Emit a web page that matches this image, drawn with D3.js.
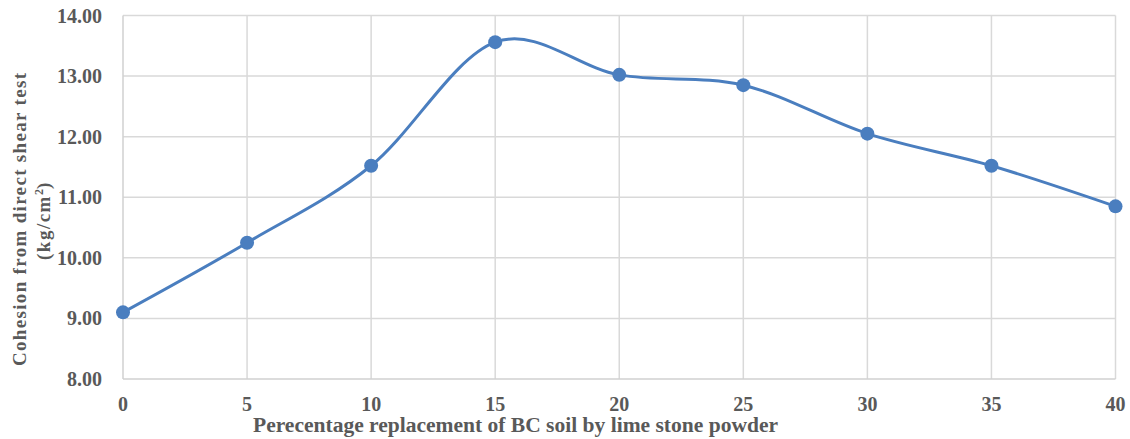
<!DOCTYPE html>
<html><head><meta charset="utf-8">
<script src="https://cdn.jsdelivr.net/npm/d3@7"></script>
<style>body{margin:0;background:#fff;} svg{display:block;}</style>
</head><body>
<svg id="c" width="1130" height="439"></svg>
<script>
const xValues = [0, 5, 10, 15, 20, 25, 30, 35, 40];
const cohesion = [9.10, 10.25, 11.52, 13.56, 13.02, 12.85, 12.05, 11.52, 10.85];
const yTicks = [8, 9, 10, 11, 12, 13, 14];
const xTicks = [0, 5, 10, 15, 20, 25, 30, 35, 40];
const xTitle = "Perecentage replacement of BC soil by lime stone powder";
const yTitle1 = "Cohesion from direct shear test";

const svg = d3.select("#c");
const x = d3.scaleLinear().domain([0, 40]).range([123, 1115.5]);
const y = d3.scaleLinear().domain([8, 14]).range([379, 15.5]);
const font = "'Liberation Serif', 'Times New Roman', serif";
const textCol = "#595959";
const gridCol = "#d9d9d9";

// gridlines
svg.append("g").selectAll("line").data(yTicks.slice(1)).join("line")
  .attr("x1", x(0)).attr("x2", x(40)).attr("y1", d => y(d)).attr("y2", d => y(d))
  .attr("stroke", gridCol).attr("stroke-width", 1.5);
svg.append("g").selectAll("line").data(xTicks.slice(1)).join("line")
  .attr("x1", d => x(d)).attr("x2", d => x(d)).attr("y1", y(8)).attr("y2", y(14))
  .attr("stroke", gridCol).attr("stroke-width", 1.5);
// axes lines
svg.append("line").attr("x1", x(0)).attr("x2", x(0)).attr("y1", y(8)).attr("y2", y(14))
  .attr("stroke", "#d0d0d0").attr("stroke-width", 1.5);
svg.append("line").attr("x1", x(0)).attr("x2", x(40)).attr("y1", y(8)).attr("y2", y(8))
  .attr("stroke", "#d0d0d0").attr("stroke-width", 1.5);

// tick labels
svg.append("g").selectAll("text").data(yTicks).join("text")
  .attr("x", 102).attr("y", d => y(d)).attr("dy", "0.35em")
  .attr("text-anchor", "end").attr("font-family", font).attr("font-weight", "bold")
  .attr("font-size", 20).attr("fill", textCol).text(d => d3.format(".2f")(d));
svg.append("g").selectAll("text").data(xTicks).join("text")
  .attr("x", d => x(d)).attr("y", 411)
  .attr("text-anchor", "middle").attr("font-family", font).attr("font-weight", "bold")
  .attr("font-size", 20).attr("fill", textCol).text(d => d);

// titles
svg.append("text").attr("x", 253).attr("y", 432)
  .attr("textLength", 525).attr("lengthAdjust", "spacingAndGlyphs")
  .attr("font-family", font).attr("font-weight", "bold").attr("font-size", 20)
  .attr("fill", textCol).text(xTitle);
svg.append("text").attr("transform", "translate(26,366) rotate(-90)")
  .attr("textLength", 293).attr("lengthAdjust", "spacing")
  .attr("font-family", font).attr("font-weight", "bold").attr("font-size", 19)
  .attr("fill", textCol).text(yTitle1);
const t2 = svg.append("text").attr("transform", "translate(50,260) rotate(-90)")
  .attr("font-family", font).attr("font-weight", "bold").attr("font-size", 19)
  .attr("fill", textCol);
t2.append("tspan").attr("letter-spacing", 1.5).text("(kg/cm");
t2.append("tspan").attr("font-size", 12).attr("dy", -7).text("2");
t2.append("tspan").attr("dy", 7).text(")");

// line
const pts = xValues.map((v, i) => [v, cohesion[i]]);
svg.append("path").datum(pts)
  .attr("d", d3.line().x(d => x(d[0])).y(d => y(d[1])).curve(d3.curveCatmullRom.alpha(0)))
  .attr("fill", "none").attr("stroke", "#4a7ebf").attr("stroke-width", 3);
svg.append("g").selectAll("circle").data(pts).join("circle")
  .attr("cx", d => x(d[0])).attr("cy", d => y(d[1])).attr("r", 7)
  .attr("fill", "#4a7ebf");
</script>
</body></html>
